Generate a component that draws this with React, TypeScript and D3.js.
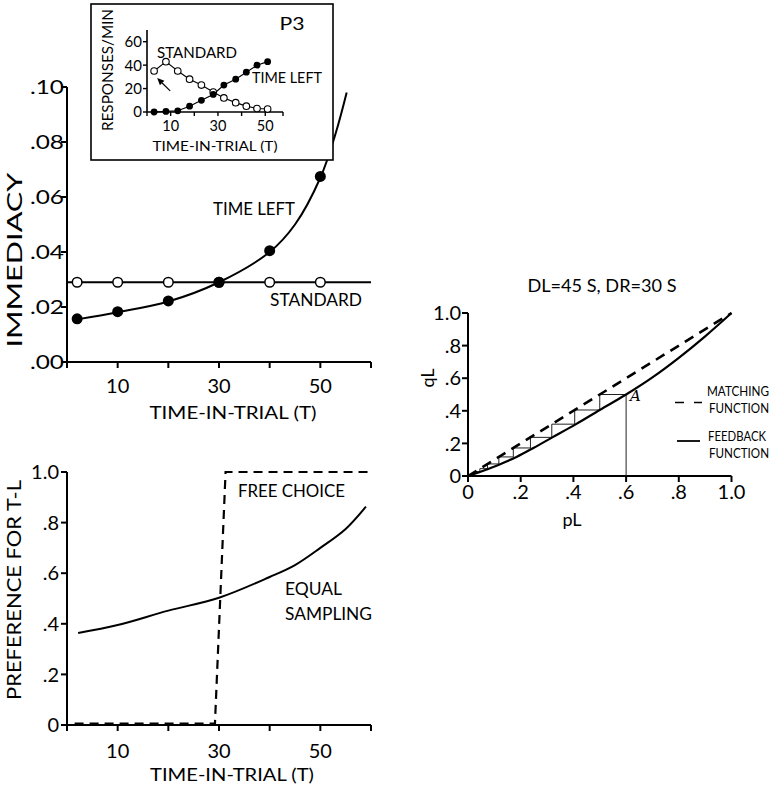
import React from 'react';
import * as d3 from 'd3';

const FONT = 'Lato, "Open Sans", sans-serif';

// ---------- Panel 1: immediacy ----------
const IMM_T = [2, 10, 20, 30, 40, 50];
const IMM_STANDARD = [0.029, 0.029, 0.029, 0.029, 0.029, 0.029];
const IMM_TIMELEFT = [0.0157, 0.0183, 0.0222, 0.029, 0.0405, 0.0675];
const IMM_CURVE_T = [2, 10, 20, 30, 40, 45, 50, 53, 55.2];
const IMM_CURVE_V = [0.0155, 0.0181, 0.022, 0.029, 0.04, 0.05, 0.067, 0.083, 0.098];
const STANDARD_LINE_T = [0, 60];
const STANDARD_LEVEL = 0.029;
const IMM_Y_TICKS = [0, 0.02, 0.04, 0.06, 0.08, 0.1];
const IMM_Y_LABELS = ['.00', '.02', '.04', '.06', '.08', '.10'];
const T_TICKS = [0, 10, 20, 30, 40, 50, 60];
const T_LABELED = [10, 30, 50];

// ---------- Inset: responses/min ----------
const INSET_T = [3, 8, 13, 18, 23, 28, 32.5, 37.5, 42, 46.5, 51];
const INSET_STANDARD = [35, 43, 35, 28, 23, 17, 12, 8, 5, 3, 2.5];
const INSET_TIMELEFT = [0, 0.5, 1, 5, 10, 15, 23, 28, 34, 40, 43];
const INSET_Y_TICKS = [0, 20, 40, 60];
const INSET_X_TICKS = [0, 10, 20, 30, 40, 50, 57.5];
const INSET_X_LABELED = [10, 30, 50];

// ---------- Panel 2: preference ----------
const EQUAL_T = [2.2, 10, 20, 30, 40, 45, 50, 55, 59];
const EQUAL_V = [0.364, 0.395, 0.452, 0.503, 0.585, 0.632, 0.7, 0.775, 0.863];
const FREE_T = [1.5, 29.2, 31.3, 60];
const FREE_V = [0.006, 0.006, 1.0, 1.0];
const PREF_Y_TICKS = [0, 0.2, 0.4, 0.6, 0.8, 1.0];
const PREF_Y_LABELS = ['0', '.2', '.4', '.6', '.8', '1.0'];

// ---------- Panel 3: qL vs pL ----------
const MATCH_P = [0, 1];
const MATCH_Q = [0, 1];
const FEEDBACK_P = [0, 0.05, 0.124, 0.184, 0.248, 0.32, 0.41, 0.5, 0.6, 0.7, 0.8, 0.9, 1];
const FEEDBACK_Q = [0, 0.028, 0.074, 0.117, 0.172, 0.237, 0.318, 0.405, 0.5, 0.605, 0.725, 0.857, 1];
const STAIR_START_P = 0.6;
const STAIR_Q = [0.5, 0.405, 0.318, 0.237, 0.172, 0.117, 0.074, 0.045, 0.027, 0.016];
const PQ_TICKS = [0, 0.2, 0.4, 0.6, 0.8, 1.0];
const PQ_LABELS = ['0', '.2', '.4', '.6', '.8', '1.0'];

export default function App() {
  const xT = d3.scaleLinear().domain([0, 60]).range([67, 371]);
  const yImm = d3.scaleLinear().domain([0, 0.1]).range([362, 87]);
  const yPref = d3.scaleLinear().domain([0, 1]).range([725, 472]);
  const xIn = d3.scaleLinear().domain([0, 57.5]).range([147, 283]);
  const yIn = d3.scaleLinear().domain([0, 70]).range([112, 30]);
  const xP = d3.scaleLinear().domain([0, 1]).range([468, 731.5]);
  const yQ = d3.scaleLinear().domain([0, 1]).range([476, 313]);

  const immCurve = d3
    .line<number>()
    .x((_, i) => xT(IMM_CURVE_T[i]))
    .y((d) => yImm(d))
    .curve(d3.curveCatmullRom)(IMM_CURVE_V) as string;

  const stdLine = d3
    .line<number>()
    .x((d) => xT(d))
    .y(() => yImm(STANDARD_LEVEL))(STANDARD_LINE_T) as string;

  const inStd = d3
    .line<number>()
    .x((_, i) => xIn(INSET_T[i]))
    .y((d) => yIn(d))(INSET_STANDARD) as string;
  const inTL = d3
    .line<number>()
    .x((_, i) => xIn(INSET_T[i]))
    .y((d) => yIn(d))(INSET_TIMELEFT) as string;

  const equalPath = d3
    .line<number>()
    .x((_, i) => xT(EQUAL_T[i]))
    .y((d) => yPref(d))
    .curve(d3.curveCatmullRom)(EQUAL_V) as string;
  const freePath = d3
    .line<number>()
    .x((_, i) => xT(FREE_T[i]))
    .y((d) => yPref(d))(FREE_V) as string;

  const matchPath = d3
    .line<number>()
    .x((_, i) => xP(MATCH_P[i]))
    .y((d) => yQ(d))(MATCH_Q) as string;
  const feedPath = d3
    .line<number>()
    .x((_, i) => xP(FEEDBACK_P[i]))
    .y((d) => yQ(d))
    .curve(d3.curveCatmullRom)(FEEDBACK_Q) as string;

  const stairPts: [number, number][] = [[STAIR_START_P, STAIR_Q[0]]];
  for (let k = 0; k < STAIR_Q.length - 1; k++) {
    stairPts.push([STAIR_Q[k], STAIR_Q[k]]);
    stairPts.push([STAIR_Q[k], STAIR_Q[k + 1]]);
  }
  const stairPath = d3
    .line<[number, number]>()
    .x((d) => xP(d[0]))
    .y((d) => yQ(d[1]))(stairPts) as string;

  const tickFS = 20;
  const labFS = 18;

  const arTail: [number, number] = [xIn(9.8), yIn(18)];
  const arHead: [number, number] = [xIn(4.3), yIn(29)];
  const ang = Math.atan2(arHead[1] - arTail[1], arHead[0] - arTail[0]);
  const ah = 7,
    aw = 3.2;
  const baseX = arHead[0] - ah * Math.cos(ang);
  const baseY = arHead[1] - ah * Math.sin(ang);
  const arrowPoly = [
    [arHead[0], arHead[1]],
    [baseX + aw * Math.sin(ang), baseY - aw * Math.cos(ang)],
    [baseX - aw * Math.sin(ang), baseY + aw * Math.cos(ang)],
  ]
    .map((p) => p.join(','))
    .join(' ');

  const TL = (w: number) => ({ textLength: w, lengthAdjust: 'spacingAndGlyphs' as const });

  return (
    <svg
      width={775}
      height={788}
      viewBox="0 0 775 788"
      style={{ position: 'absolute', left: 0, top: 0, background: '#fff' }}
      fontFamily={FONT}
    >
      <rect x={0} y={0} width={775} height={788} fill="#fff" />

      {/* ================= Panel 1 ================= */}
      <g>
        <line x1={xT(0)} x2={xT(0)} y1={yImm(0)} y2={yImm(0.1)} stroke="#000" strokeWidth={2} />
        <line x1={xT(0)} x2={xT(60)} y1={yImm(0)} y2={yImm(0)} stroke="#000" strokeWidth={2} />
        {IMM_Y_TICKS.map((t, i) => (
          <g key={'iy' + i}>
            <line x1={xT(0) - 6} x2={xT(0)} y1={yImm(t)} y2={yImm(t)} stroke="#000" strokeWidth={2} />
            <text x={xT(0) - 3} y={yImm(t)} dy="0.36em" textAnchor="end" fontSize={tickFS} {...TL(34)}>
              {IMM_Y_LABELS[i]}
            </text>
          </g>
        ))}
        {T_TICKS.map((t) => (
          <line key={'ix' + t} x1={xT(t)} x2={xT(t)} y1={yImm(0)} y2={yImm(0) + 6} stroke="#000" strokeWidth={2} />
        ))}
        {T_LABELED.map((t) => (
          <text key={'ixl' + t} x={xT(t)} y={393} textAnchor="middle" fontSize={tickFS}>
            {t}
          </text>
        ))}
        <text x={233} y={419} textAnchor="middle" fontSize={labFS} {...TL(167)}>
          TIME-IN-TRIAL (T)
        </text>
        <text transform="translate(22,260) rotate(-90)" textAnchor="middle" fontSize={22} {...TL(175)}>
          IMMEDIACY
        </text>

        <path d={stdLine} fill="none" stroke="#000" strokeWidth={2} />
        <path d={immCurve} fill="none" stroke="#000" strokeWidth={2} />
        {IMM_T.map((t, i) => (
          <circle key={'os' + i} cx={xT(t)} cy={yImm(IMM_STANDARD[i])} r={4.8} fill="#fff" stroke="#000" strokeWidth={1.5} />
        ))}
        {IMM_T.map((t, i) => (
          <circle key={'fs' + i} cx={xT(t)} cy={yImm(IMM_TIMELEFT[i])} r={5.5} fill="#000" />
        ))}
        <text x={254} y={215} textAnchor="middle" fontSize={labFS} {...TL(82)}>
          TIME LEFT
        </text>
        <text x={316} y={306} textAnchor="middle" fontSize={labFS} {...TL(92)}>
          STANDARD
        </text>
      </g>

      {/* ================= Inset ================= */}
      <g>
        <rect x={91} y={4} width={242} height={156} fill="#fff" stroke="#000" strokeWidth={1.6} />
        <text x={292} y={30} textAnchor="middle" fontSize={18} {...TL(25)}>
          P3
        </text>
        <line x1={xIn(0)} x2={xIn(0)} y1={yIn(0)} y2={yIn(70)} stroke="#000" strokeWidth={1.6} />
        <line x1={xIn(0)} x2={xIn(57.5)} y1={yIn(0)} y2={yIn(0)} stroke="#000" strokeWidth={1.6} />
        {INSET_Y_TICKS.map((t) => (
          <g key={'ny' + t}>
            <line x1={xIn(0) - 4} x2={xIn(0)} y1={yIn(t)} y2={yIn(t)} stroke="#000" strokeWidth={1.4} />
            <text x={xIn(0) - 5} y={yIn(t)} dy="0.36em" textAnchor="end" fontSize={15}>
              {t}
            </text>
          </g>
        ))}
        {INSET_X_TICKS.map((t) => (
          <line key={'nx' + t} x1={xIn(t)} x2={xIn(t)} y1={yIn(0)} y2={yIn(0) + 4} stroke="#000" strokeWidth={1.4} />
        ))}
        {INSET_X_LABELED.map((t) => (
          <text key={'nxl' + t} x={xIn(t)} y={131} textAnchor="middle" fontSize={14.5}>
            {t}
          </text>
        ))}
        <text x={215} y={151} textAnchor="middle" fontSize={14} {...TL(125)}>
          TIME-IN-TRIAL (T)
        </text>
        <text transform="translate(113,70) rotate(-90)" textAnchor="middle" fontSize={15} {...TL(122)}>
          RESPONSES/MIN
        </text>
        <path d={inStd} fill="none" stroke="#000" strokeWidth={1.1} />
        <path d={inTL} fill="none" stroke="#000" strokeWidth={1.1} />
        {INSET_T.map((t, i) => (
          <circle key={'nso' + i} cx={xIn(t)} cy={yIn(INSET_STANDARD[i])} r={3.3} fill="#fff" stroke="#000" strokeWidth={1.1} />
        ))}
        {INSET_T.map((t, i) => (
          <circle key={'ntf' + i} cx={xIn(t)} cy={yIn(INSET_TIMELEFT[i])} r={3.4} fill="#000" />
        ))}
        <text x={197} y={58} textAnchor="middle" fontSize={15} {...TL(80)}>
          STANDARD
        </text>
        <text x={287} y={83} textAnchor="middle" fontSize={15} {...TL(70)}>
          TIME LEFT
        </text>
        <line x1={arTail[0]} y1={arTail[1]} x2={baseX} y2={baseY} stroke="#000" strokeWidth={1.2} />
        <polygon points={arrowPoly} fill="#000" />
      </g>

      {/* ================= Panel 2 ================= */}
      <g>
        <line x1={xT(0)} x2={xT(0)} y1={yPref(0)} y2={yPref(1)} stroke="#000" strokeWidth={2} />
        <line x1={xT(0)} x2={xT(60)} y1={yPref(0)} y2={yPref(0)} stroke="#000" strokeWidth={2} />
        {PREF_Y_TICKS.map((t, i) => (
          <g key={'py' + i}>
            <line x1={xT(0) - 6} x2={xT(0)} y1={yPref(t)} y2={yPref(t)} stroke="#000" strokeWidth={2} />
            <text x={xT(0) - 8} y={yPref(t)} dy="0.36em" textAnchor="end" fontSize={tickFS}>
              {PREF_Y_LABELS[i]}
            </text>
          </g>
        ))}
        {T_TICKS.map((t) => (
          <line key={'px' + t} x1={xT(t)} x2={xT(t)} y1={yPref(0)} y2={yPref(0) + 6} stroke="#000" strokeWidth={2} />
        ))}
        {T_LABELED.map((t) => (
          <text key={'pxl' + t} x={xT(t)} y={758} textAnchor="middle" fontSize={tickFS}>
            {t}
          </text>
        ))}
        <text x={232} y={781} textAnchor="middle" fontSize={labFS} {...TL(164)}>
          TIME-IN-TRIAL (T)
        </text>
        <text transform="translate(21,590) rotate(-90)" textAnchor="middle" fontSize={20} {...TL(220)}>
          PREFERENCE FOR T-L
        </text>
        <path d={equalPath} fill="none" stroke="#000" strokeWidth={2} />
        <path d={freePath} fill="none" stroke="#000" strokeWidth={2.2} strokeDasharray="9,6" />
        <text x={238} y={497} fontSize={labFS} {...TL(107)}>
          FREE CHOICE
        </text>
        <text x={285} y={595} fontSize={labFS} {...TL(57)}>
          EQUAL
        </text>
        <text x={285} y={620} fontSize={labFS} {...TL(87)}>
          SAMPLING
        </text>
      </g>

      {/* ================= Panel 3 ================= */}
      <g>
        <text x={602} y={292} textAnchor="middle" fontSize={17} {...TL(149)}>
          DL=45 S, DR=30 S
        </text>
        <line x1={xP(0)} x2={xP(0)} y1={yQ(0)} y2={yQ(1)} stroke="#000" strokeWidth={2} />
        <line x1={xP(0)} x2={xP(1)} y1={yQ(0)} y2={yQ(0)} stroke="#000" strokeWidth={2} />
        {PQ_TICKS.map((t, i) => (
          <g key={'qy' + i}>
            <line x1={xP(0) - 6} x2={xP(0)} y1={yQ(t)} y2={yQ(t)} stroke="#000" strokeWidth={2} />
            <text x={xP(0) - 7} y={yQ(t)} dy="0.36em" textAnchor="end" fontSize={tickFS}>
              {PQ_LABELS[i]}
            </text>
          </g>
        ))}
        {PQ_TICKS.map((t, i) => (
          <g key={'qx' + i}>
            <line x1={xP(t)} x2={xP(t)} y1={yQ(0)} y2={yQ(0) + 6} stroke="#000" strokeWidth={2} />
            <text x={xP(t)} y={499} textAnchor="middle" fontSize={tickFS}>
              {PQ_LABELS[i]}
            </text>
          </g>
        ))}
        <text x={572} y={526} textAnchor="middle" fontSize={labFS}>
          pL
        </text>
        <text transform="translate(434,378) rotate(-90)" textAnchor="middle" fontSize={labFS}>
          qL
        </text>

        <path d={stairPath} fill="none" stroke="#222" strokeWidth={1} />
        <line x1={xP(STAIR_START_P)} x2={xP(STAIR_START_P)} y1={yQ(STAIR_Q[0])} y2={yQ(0)} stroke="#222" strokeWidth={1} />
        <path d={matchPath} fill="none" stroke="#000" strokeWidth={2.6} strokeDasharray="10,7" />
        <path d={feedPath} fill="none" stroke="#000" strokeWidth={2.2} />
        <text x={630} y={401} fontFamily='"DejaVu Serif", "Liberation Serif", serif' fontStyle="italic" fontSize={15}>
          A
        </text>

        <line x1={675} x2={702} y1={402.5} y2={402.5} stroke="#000" strokeWidth={1.5} strokeDasharray="9,10" />
        <text x={769} y={396} textAnchor="end" fontSize={12.5} {...TL(62)}>
          MATCHING
        </text>
        <text x={769} y={413} textAnchor="end" fontSize={12.5} {...TL(60)}>
          FUNCTION
        </text>
        <line x1={677} x2={700} y1={441} y2={441} stroke="#000" strokeWidth={1.8} />
        <text x={766} y={441} textAnchor="end" fontSize={12.5} {...TL(58)}>
          FEEDBACK
        </text>
        <text x={769} y={458} textAnchor="end" fontSize={12.5} {...TL(60)}>
          FUNCTION
        </text>
      </g>
    </svg>
  );
}
